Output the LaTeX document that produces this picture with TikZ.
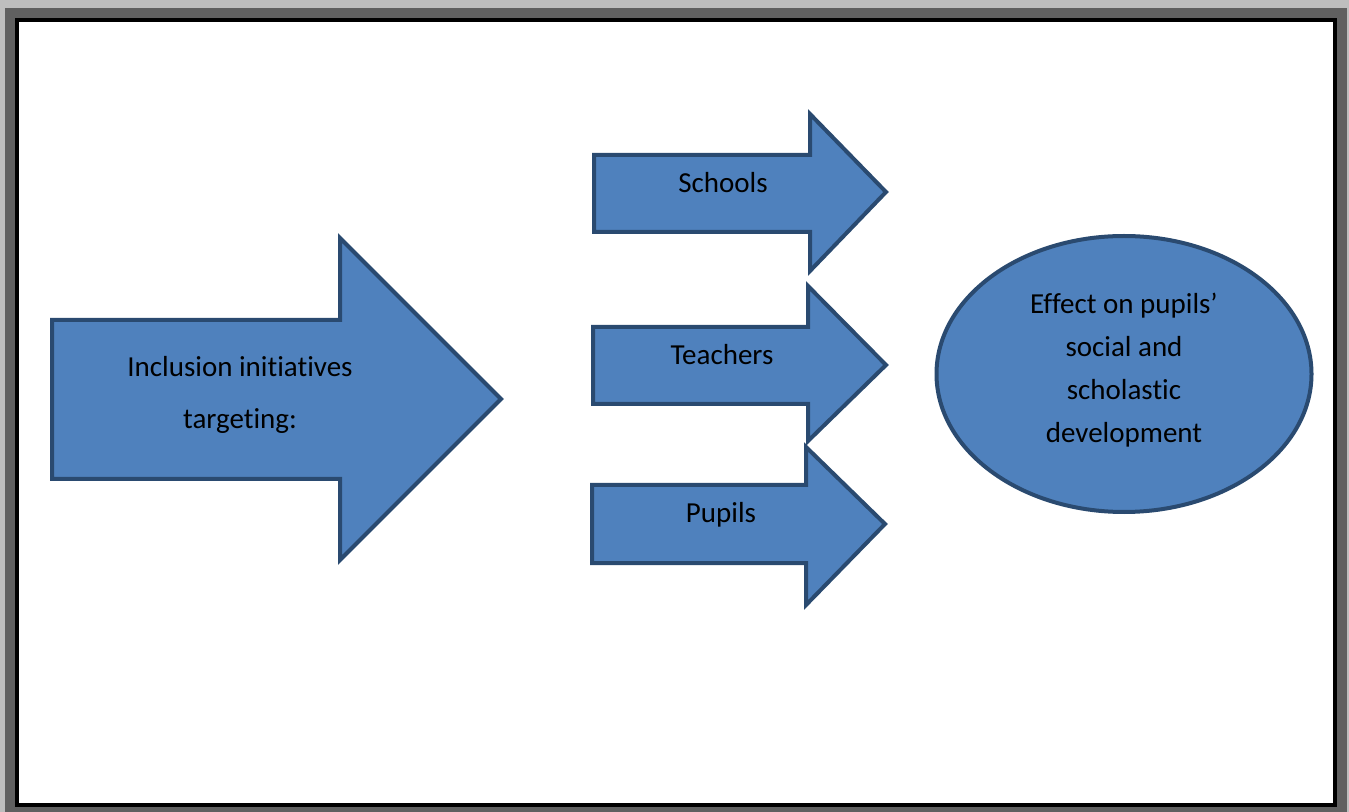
\documentclass[tikz,border=0pt]{standalone}
\usepackage{fontspec}
\setmainfont{Carlito}[Ligatures=NoCommon]
\usetikzlibrary{shapes.geometric}
\definecolor{framegray}{HTML}{BEBEBE}
\definecolor{shadowgray}{HTML}{606060}
\definecolor{shapefill}{HTML}{4F81BD}
\definecolor{shapeline}{HTML}{2A4A70}

\begin{document}
\begin{tikzpicture}[x=0.75pt,y=0.75pt,yscale=-1,xscale=1]
\tikzset{blockarrow/.style={draw=shapeline,fill=shapefill,line width=3pt,line join=miter},
  label text/.style={inner sep=0.75pt,align=center,font=\fontsize{21.75}{32.25}\selectfont}}
\useasboundingbox (0,0) rectangle (1349,812);
% page frame
\fill[framegray] (0,0) rectangle (1349,812);
\fill[shadowgray] (5,8) rectangle (1347,812);
\fill[black] (15,18) rectangle (1337,807);
\fill[white] (19,22) rectangle (1333,803);
% big arrow
\draw[blockarrow] (52,320) -- (340,320) -- (340,238) -- (501,399) -- (340,560) -- (340,479) -- (52,479) -- cycle ;
\node[label text,font=\fontsize{21.75}{39}\selectfont] (initiatives) at (240,395) {Inclusion initiatives\\targeting:};
% small arrows
\draw[blockarrow] (594,155) -- (810,155) -- (810,114) -- (886,192) -- (810,271) -- (810,232) -- (594,232) -- cycle ;
\node[label text] (schools) at (723,183) {Schools};
\draw[blockarrow] (593,327) -- (808,327) -- (808,286) -- (886,365) -- (808,441) -- (808,404) -- (593,404) -- cycle ;
\node[label text] (teachers) at (722,355) {Teachers};
\draw[blockarrow] (592,485) -- (806,485) -- (806,447) -- (885,524) -- (806,605) -- (806,563) -- (592,563) -- cycle ;
\node[label text] (pupils) at (721,515) {Pupils};
% outcome
\draw[blockarrow] (1124,374) ellipse [x radius=187.5, y radius=138];
\node[label text] (effect) at (1124,370) {Effect on pupils’\\social and\\scholastic\\development};
\end{tikzpicture}
\end{document}
